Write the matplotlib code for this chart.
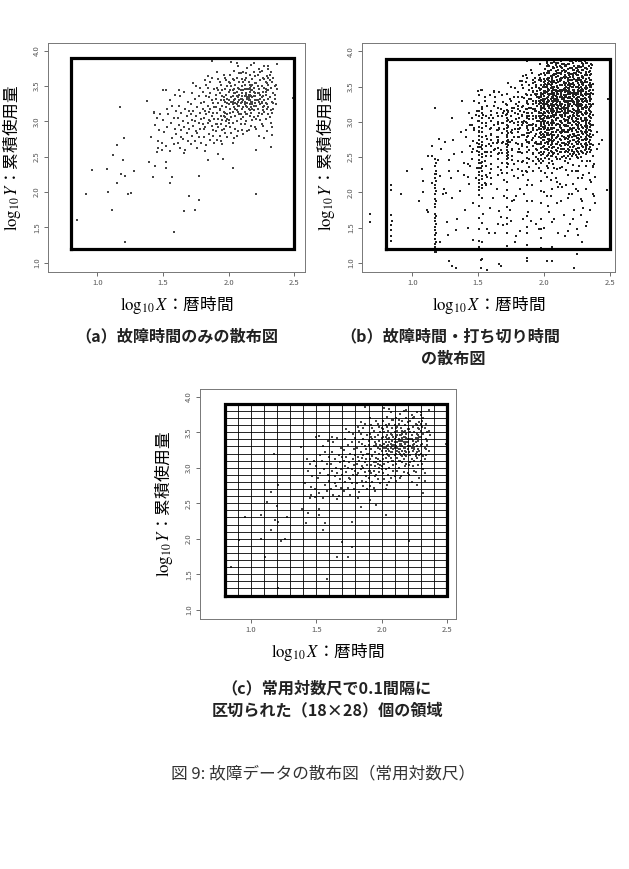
#!/usr/bin/env python3

import matplotlib
matplotlib.use("Agg")
import matplotlib.pyplot as plt
import numpy as np

plt.rcParams['font.family'] = ['Noto Sans CJK JP', 'DejaVu Sans']
plt.rcParams['mathtext.fontset'] = 'stix'

# failure data (log10 calendar time, log10 cumulative usage)
fail_x = [
    0.845, 0.91, 0.957, 1.076, 1.08, 1.11, 1.12, 1.15, 1.15, 1.175,
    1.18, 1.196, 1.206, 1.21, 1.21, 1.23, 1.257, 1.277, 1.38, 1.39,
    1.42, 1.43, 1.44, 1.45, 1.46, 1.50, 1.52, 1.49, 1.52, 1.52,
    1.55, 1.57, 1.58, 1.66, 1.70, 1.745, 1.77, 1.77, 1.84, 1.87,
    1.915, 1.955, 2.03, 2.21, 2.21, 2.49, 2.32, 2.33, 2.06, 2.19,
    2.30, 2.365,
    1.41, 1.43, 1.44, 1.45, 1.46, 1.47, 1.48, 1.49,
    1.50, 1.51, 1.52, 1.53, 1.53, 1.54, 1.55, 1.55, 1.56, 1.57, 1.57, 1.58, 1.58, 1.59, 1.59, 1.60,
    1.60, 1.61, 1.61, 1.62, 1.62, 1.63, 1.63, 1.64, 1.64, 1.65, 1.65, 1.66, 1.66, 1.67, 1.67, 1.68,
    1.68, 1.69, 1.69, 1.69, 1.70, 1.62, 1.66, 1.64,
    1.70, 1.71, 1.71, 1.72, 1.72, 1.72, 1.73, 1.73, 1.74, 1.74, 1.75, 1.75, 1.75, 1.76, 1.76, 1.77,
    1.77, 1.77, 1.78, 1.78, 1.78, 1.79, 1.79, 1.79, 1.80, 1.80, 1.73, 1.76, 1.74, 1.71,
    1.80, 1.81, 1.81, 1.81, 1.82, 1.82, 1.82, 1.83, 1.83, 1.83, 1.84, 1.84, 1.84, 1.85, 1.85, 1.85,
    1.86, 1.86, 1.86, 1.87, 1.87, 1.87, 1.88, 1.88, 1.88, 1.89, 1.89, 1.89, 1.90, 1.90, 1.82, 1.84,
    1.86, 1.88, 1.83, 1.85, 1.87, 1.89, 1.81, 1.86,
    1.90, 1.90, 1.91, 1.91, 1.91, 1.92, 1.92, 1.92, 1.92, 1.93, 1.93, 1.93, 1.94, 1.94, 1.94, 1.94,
    1.95, 1.95, 1.95, 1.95, 1.96, 1.96, 1.96, 1.96, 1.97, 1.97, 1.97, 1.97, 1.98, 1.98, 1.98, 1.98,
    1.99, 1.99, 1.99, 1.99, 2.00, 2.00, 2.00, 1.91, 1.93, 1.95, 1.97, 1.99, 1.92, 1.94, 1.96, 1.98,
    1.90, 1.93, 1.95, 1.97, 1.99, 1.91, 1.96,
    2.00, 2.00, 2.01, 2.01, 2.01, 2.01, 2.02, 2.02, 2.02, 2.02, 2.03, 2.03, 2.03, 2.03, 2.03, 2.04,
    2.04, 2.04, 2.04, 2.05, 2.05, 2.05, 2.05, 2.05, 2.06, 2.06, 2.06, 2.06, 2.07, 2.07, 2.07, 2.07,
    2.07, 2.08, 2.08, 2.08, 2.08, 2.09, 2.09, 2.09, 2.09, 2.09, 2.10, 2.10, 2.10, 2.10, 2.01, 2.02,
    2.03, 2.04, 2.05, 2.06, 2.07, 2.08, 2.09, 2.01, 2.03, 2.05, 2.07, 2.09, 2.02, 2.04, 2.06, 2.08,
    2.10, 2.00, 2.04, 2.06, 2.08, 2.03,
    2.10, 2.10, 2.11, 2.11, 2.11, 2.11, 2.12, 2.12, 2.12, 2.12, 2.12, 2.13, 2.13, 2.13, 2.13, 2.14,
    2.14, 2.14, 2.14, 2.14, 2.15, 2.15, 2.15, 2.15, 2.16, 2.16, 2.16, 2.16, 2.16, 2.17, 2.17, 2.17,
    2.17, 2.18, 2.18, 2.18, 2.18, 2.18, 2.19, 2.19, 2.19, 2.19, 2.20, 2.20, 2.20, 2.20, 2.11, 2.12,
    2.13, 2.14, 2.15, 2.16, 2.17, 2.18, 2.19, 2.11, 2.13, 2.15, 2.17, 2.19, 2.12, 2.14, 2.16, 2.18,
    2.20, 2.10, 2.13, 2.15, 2.17, 2.19, 2.11, 2.14, 2.16, 2.18, 2.12, 2.15, 2.17, 2.20, 2.13, 2.16,
    2.20, 2.21, 2.21, 2.21, 2.22, 2.22, 2.22, 2.22, 2.23, 2.23, 2.23, 2.23, 2.24, 2.24, 2.24, 2.24,
    2.25, 2.25, 2.25, 2.25, 2.26, 2.26, 2.26, 2.26, 2.27, 2.27, 2.27, 2.27, 2.28, 2.28, 2.28, 2.28,
    2.29, 2.29, 2.29, 2.29, 2.30, 2.30, 2.30, 2.21, 2.22, 2.23, 2.24, 2.25, 2.26, 2.27, 2.28, 2.29,
    2.21, 2.23, 2.25, 2.27, 2.29, 2.22, 2.24, 2.26, 2.28, 2.30, 2.25, 2.27,
    2.30, 2.30, 2.31, 2.31, 2.31, 2.32, 2.32, 2.32, 2.33, 2.33, 2.33, 2.34, 2.34, 2.34, 2.35, 2.35,
    2.36, 2.36, 2.37, 2.31, 2.32, 2.33, 2.34, 2.35, 2.30,
]
fail_y = [
    1.60, 1.98, 2.31, 2.33, 2.00, 1.75, 2.52, 2.66, 2.13, 3.20,
    2.26, 2.46, 2.76, 2.23, 1.30, 1.97, 1.99, 2.30, 3.29, 2.42,
    2.22, 3.13, 2.37, 2.57, 2.73, 3.44, 3.45, 2.59, 2.42, 2.34,
    2.13, 2.22, 1.43, 1.74, 1.95, 1.75, 1.89, 2.23, 2.45, 3.86,
    2.54, 2.47, 2.34, 1.97, 2.59, 3.33, 2.64, 2.81, 3.83, 3.82,
    3.79, 3.81,
    2.78, 3.12, 2.95, 3.05, 2.62, 2.88, 3.10, 2.70,
    3.02, 2.85, 2.65, 3.18, 2.92, 3.10, 2.58, 3.30, 2.98, 2.76, 3.22, 3.05, 2.68, 2.90, 3.38, 3.15,
    2.82, 3.05, 2.70, 3.22, 2.95, 2.62, 3.36, 2.88, 3.12, 3.00, 2.75, 3.42, 2.92, 3.18, 2.60, 3.08,
    2.84, 3.28, 2.98, 2.72, 3.15, 3.44, 2.56, 2.78,
    2.90, 3.25, 2.68, 3.02, 3.40, 2.80, 3.15, 2.94, 3.32, 2.72, 3.08, 2.86, 3.50, 3.20, 2.62, 2.98,
    3.36, 2.78, 3.12, 2.90, 3.48, 3.04, 2.70, 3.26, 2.96, 3.18, 3.55, 2.84, 3.00, 3.10,
    3.42, 3.05, 2.78, 3.28, 3.15, 2.92, 3.58, 3.36, 2.66, 3.10, 3.22, 2.98, 3.48, 3.02, 2.82, 3.34,
    3.18, 2.74, 3.40, 3.08, 2.94, 3.62, 3.26, 2.88, 3.12, 3.46, 2.70, 3.20, 3.32, 2.96, 2.58, 3.65,
    3.00, 2.80, 3.52, 3.14, 3.30, 3.04, 2.90, 3.56,
    3.38, 2.86, 3.12, 3.48, 2.74, 3.26, 3.04, 3.60, 2.92, 3.18, 3.40, 2.80, 3.30, 3.08, 2.96, 3.52,
    3.22, 3.44, 2.68, 3.02, 3.34, 3.14, 2.90, 3.66, 3.28, 3.06, 3.46, 2.84, 3.20, 3.38, 3.00, 3.58,
    3.32, 3.10, 2.78, 3.50, 3.24, 3.42, 2.98, 3.70, 3.16, 3.36, 3.12, 3.26, 3.44, 2.72, 3.08, 2.94,
    3.20, 3.56, 2.88, 3.62, 3.04, 2.96, 3.30,
    3.30, 3.56, 3.18, 3.44, 2.92, 3.66, 3.28, 3.06, 3.50, 2.84, 3.36, 3.14, 3.60, 2.98, 3.24, 3.40,
    3.20, 2.76, 3.72, 3.32, 3.08, 3.52, 2.90, 3.26, 3.42, 3.16, 3.62, 3.00, 3.34, 3.22, 3.48, 2.86,
    3.78, 3.30, 3.10, 3.56, 3.38, 3.26, 3.44, 3.04, 3.68, 2.96, 3.36, 3.18, 3.50, 3.28, 3.12, 3.34,
    2.70, 3.46, 3.40, 2.80, 3.14, 3.22, 3.32, 3.54, 3.44, 3.18, 3.28, 3.10, 3.84, 3.30, 3.24, 3.46,
    2.88, 3.02, 3.58, 3.36, 3.68, 3.28,
    3.32, 3.60, 3.20, 3.44, 3.06, 3.70, 3.36, 3.14, 3.52, 2.96, 3.28, 3.40, 3.22, 3.62, 3.00, 3.34,
    3.46, 3.10, 3.76, 3.26, 3.38, 3.18, 3.56, 2.88, 3.30, 3.42, 3.08, 3.66, 3.24, 3.36, 3.50, 3.12,
    3.80, 3.28, 3.44, 3.02, 3.60, 3.34, 3.22, 3.48, 3.16, 3.70, 3.40, 3.26, 3.54, 2.92, 3.30, 3.24,
    3.38, 3.20, 3.46, 3.16, 3.28, 3.52, 3.36, 2.82, 3.10, 3.30, 2.94, 3.42, 3.58, 3.32, 3.48, 3.18,
    3.64, 3.40, 3.26, 3.34, 3.44, 3.06, 3.56, 2.86, 3.38, 3.24, 3.46, 3.32, 3.20, 3.30, 3.68, 3.52,
    3.36, 3.22, 3.54, 3.04, 3.40, 3.18, 3.66, 3.30, 3.46, 3.12, 3.74, 3.28, 3.38, 3.02, 3.58, 3.24,
    3.34, 3.50, 3.10, 3.72, 3.42, 3.20, 3.62, 2.94, 3.30, 3.48, 3.14, 3.78, 3.38, 3.56, 3.04, 3.26,
    3.44, 3.18, 3.64, 2.86, 3.32, 3.52, 3.10, 2.90, 3.50, 2.80, 3.70, 3.28, 3.36, 3.60, 3.46, 3.24,
    3.30, 3.40, 2.96, 3.22, 3.54, 3.08, 3.32, 3.16, 3.42, 3.62, 3.26, 2.76,
    3.44, 3.20, 3.58, 3.06, 3.34, 3.48, 3.16, 3.70, 3.28, 3.56, 2.92, 3.40, 3.62, 3.18, 3.50, 3.32,
    3.52, 3.24, 3.46, 3.66, 2.98, 3.12, 3.26, 3.38, 3.74,
]

# censored data: vertical streaks (same calendar time, many usage values)
streak_x = [0.84, 1.17, 1.18, 1.51, 1.53, 1.60, 1.65, 1.72, 1.73, 1.80,
            1.87, 1.92, 1.98, 1.99, 2.02, 2.06, 2.07, 2.10, 2.14, 2.18,
            2.19, 2.22, 2.26, 2.29, 2.31, 2.32, 2.34, 2.35, 2.37,
            2.00, 2.01, 2.03, 2.04, 2.05, 2.08, 2.09, 2.11, 2.12, 2.13,
            2.15, 2.16, 2.17, 2.20, 2.21, 2.23, 2.24, 2.25, 2.27, 2.28,
            2.30, 2.33, 2.36, 1.94, 1.96, 1.89, 1.83, 1.76, 1.68, 1.56]
streak_y = [
    [1.31, 1.38, 1.47, 1.54, 1.68, 2.04, 2.10],
    [1.16, 1.23, 1.27, 1.34, 1.39, 1.46, 1.51, 1.59, 1.64, 1.70, 1.79, 1.83, 1.91, 1.98, 2.06,
     2.11, 2.21, 2.26, 2.37, 2.47],
    [1.19, 1.30, 1.43, 1.55, 1.67, 1.88, 2.02, 2.16, 2.31, 2.42],
    [1.22, 1.31, 1.48, 1.63, 1.81, 1.96, 2.03, 2.08, 2.13, 2.17, 2.24, 2.29, 2.35, 2.41, 2.46,
     2.53, 2.57, 2.64, 2.69, 2.75, 2.80, 2.87, 2.93, 3.01, 3.09, 3.16, 3.27, 3.38],
    [1.05, 1.30, 1.57, 1.92, 2.06, 2.11, 2.19, 2.23, 2.31, 2.38, 2.43, 2.50, 2.55, 2.61, 2.67,
     2.72, 2.78, 2.85, 2.91, 2.98, 3.05, 3.13, 3.21, 3.45],
    [2.12, 2.21, 2.33, 2.40, 2.52, 2.58, 2.66, 2.74, 2.83, 2.91, 3.02, 3.10],
    [1.55, 2.25, 2.36, 2.47, 2.55, 2.63, 2.71, 2.79, 2.88, 2.97, 3.08, 3.20],
    [1.24, 1.42, 1.55, 1.63, 1.79, 1.92, 2.03, 2.15, 2.27, 2.36, 2.42, 2.47, 2.51, 2.56, 2.60,
     2.65, 2.69, 2.73, 2.78, 2.82, 2.87, 2.91, 2.96, 3.01, 3.06, 3.11, 3.17, 3.24],
    [2.40, 2.49, 2.58, 2.67, 2.75, 2.84, 2.93, 3.03, 3.14, 2.53, 2.71],
    [2.20, 2.33, 2.45, 2.57, 2.68, 2.79, 2.90, 3.00, 3.11, 3.22, 3.35],
    [1.26, 1.42, 1.51, 1.66, 1.88, 2.11, 2.29, 2.41, 2.49, 2.57, 2.64, 2.71, 2.78, 2.84, 2.91,
     2.98, 3.05, 3.12, 3.19, 3.27, 3.38],
    [2.31, 2.44, 2.56, 2.66, 2.77, 2.88, 2.97, 3.08, 3.18, 3.30, 3.42, 3.55],
    [1.21, 1.35, 1.48, 1.62, 1.85, 2.02, 2.16, 2.30, 2.41, 2.47, 2.53, 2.58, 2.63, 2.68, 2.72,
     2.77, 2.81, 2.86, 2.90, 2.95, 2.99, 3.04, 3.08, 3.13, 3.17, 3.22, 3.27, 3.31, 3.36, 3.41,
     3.47, 3.53, 3.60, 3.68],
    [2.45, 2.55, 2.65, 2.74, 2.83, 2.93, 3.02, 3.11, 3.20, 3.29, 3.39, 3.50],
    [1.95, 2.22, 2.38, 2.51, 2.62, 2.71, 2.81, 2.89, 2.99, 3.07, 3.16, 3.25, 3.34, 3.43, 3.52,
     3.61, 3.70, 3.79],
    [1.22, 1.58, 2.05, 2.28, 2.44, 2.52, 2.58, 2.63, 2.68, 2.72, 2.77, 2.81, 2.86, 2.90, 2.95,
     2.99, 3.03, 3.08, 3.12, 3.17, 3.21, 3.26, 3.30, 3.35, 3.39, 3.44, 3.49, 3.54, 3.59, 3.65],
    [2.55, 2.64, 2.73, 2.82, 2.92, 3.01, 3.10, 3.19, 3.28, 3.37, 3.46, 3.56, 3.66, 3.76],
    [1.85, 2.15, 2.33, 2.47, 2.59, 2.69, 2.78, 2.88, 2.97, 3.06, 3.15, 3.24, 3.33, 3.42, 3.51,
     3.60, 3.69, 3.78],
    [2.08, 2.36, 2.50, 2.61, 2.70, 2.80, 2.89, 2.98, 3.07, 3.16, 3.25, 3.35, 3.44, 3.53, 3.62,
     3.72, 3.82],
    [1.45, 1.92, 2.24, 2.42, 2.52, 2.57, 2.62, 2.67, 2.71, 2.76, 2.80, 2.85, 2.89, 2.94, 2.98,
     3.03, 3.07, 3.12, 3.16, 3.21, 3.25, 3.30, 3.34, 3.39, 3.43, 3.48, 3.53, 3.58, 3.63, 3.69,
     3.75, 3.82],
    [2.60, 2.70, 2.79, 2.88, 2.98, 3.07, 3.16, 3.26, 3.35, 3.45, 3.55, 3.66],
    [1.62, 2.12, 2.39, 2.55, 2.65, 2.74, 2.83, 2.92, 3.01, 3.10, 3.19, 3.28, 3.37, 3.46, 3.55,
     3.64, 3.74, 3.84],
    [1.40, 2.02, 2.30, 2.49, 2.58, 2.63, 2.68, 2.73, 2.77, 2.82, 2.86, 2.91, 2.95, 3.00, 3.04,
     3.09, 3.13, 3.18, 3.22, 3.27, 3.31, 3.36, 3.40, 3.45, 3.50, 3.55, 3.61, 3.67, 3.73, 3.80],
    [1.30, 1.88, 2.21, 2.45, 2.57, 2.66, 2.75, 2.84, 2.93, 3.02, 3.11, 3.20, 3.29, 3.38, 3.47,
     3.56, 3.65, 3.74, 3.83],
    [2.60, 2.68, 2.76, 2.85, 2.94, 3.03, 3.12, 3.21, 3.30, 3.39, 3.48, 3.57, 3.66, 3.76, 3.86],
    [1.52, 2.05, 2.38, 2.55, 2.61, 2.66, 2.70, 2.75, 2.79, 2.84, 2.88, 2.93, 2.97, 3.02, 3.06,
     3.11, 3.15, 3.20, 3.24, 3.29, 3.33, 3.38, 3.42, 3.47, 3.51, 3.56, 3.61, 3.66, 3.71, 3.77,
     3.83],
    [2.62, 2.71, 2.80, 2.89, 2.99, 3.08, 3.17, 3.26, 3.35, 3.44, 3.53, 3.62, 3.71, 3.80],
    [1.75, 2.18, 2.44, 2.58, 2.64, 2.69, 2.74, 2.79, 2.83, 2.88, 2.93, 2.97, 3.02, 3.07, 3.11,
     3.16, 3.21, 3.26, 3.30, 3.35, 3.40, 3.45, 3.50, 3.55, 3.60, 3.66, 3.72],
    [1.98, 2.36, 2.52, 2.67, 2.81, 2.96, 3.10, 3.25, 3.39, 3.54],
    [2.58, 2.66, 2.75, 2.81, 2.90, 2.97, 3.05, 3.14, 3.21, 3.28, 3.37, 3.44, 3.52, 3.61, 3.70],
    [2.49, 2.61, 2.70, 2.78, 2.86, 2.94, 3.01, 3.09, 3.18, 3.26, 3.33, 3.41, 3.49, 3.58, 3.66, 3.75],
    [2.53, 2.60, 2.68, 2.76, 2.84, 2.92, 3.00, 3.08, 3.15, 3.23, 3.31, 3.39, 3.47, 3.55, 3.63, 3.72,
     3.81],
    [2.47, 2.56, 2.64, 2.73, 2.81, 2.89, 2.96, 3.05, 3.13, 3.22, 3.30, 3.38, 3.46, 3.54, 3.62, 3.70,
     3.79],
    [2.51, 2.59, 2.67, 2.75, 2.83, 2.91, 2.99, 3.07, 3.15, 3.24, 3.32, 3.40, 3.48, 3.57, 3.65, 3.74,
     3.83],
    [2.56, 2.65, 2.74, 2.82, 2.91, 2.99, 3.07, 3.16, 3.24, 3.32, 3.41, 3.49, 3.58, 3.67, 3.76, 3.85],
    [2.50, 2.60, 2.69, 2.77, 2.86, 2.95, 3.03, 3.12, 3.20, 3.29, 3.37, 3.46, 3.55, 3.64, 3.72, 3.81],
    [2.54, 2.63, 2.72, 2.80, 2.89, 2.97, 3.06, 3.14, 3.23, 3.31, 3.40, 3.48, 3.57, 3.65, 3.74, 3.83],
    [2.48, 2.58, 2.67, 2.76, 2.85, 2.93, 3.02, 3.10, 3.19, 3.27, 3.36, 3.44, 3.53, 3.61, 3.70, 3.79],
    [2.57, 2.66, 2.75, 2.84, 2.92, 3.01, 3.09, 3.18, 3.26, 3.35, 3.43, 3.52, 3.60, 3.69, 3.78, 3.86],
    [2.52, 2.61, 2.70, 2.79, 2.87, 2.96, 3.04, 3.13, 3.21, 3.30, 3.38, 3.47, 3.55, 3.64, 3.73, 3.82],
    [2.58, 2.67, 2.76, 2.85, 2.94, 3.02, 3.11, 3.19, 3.28, 3.36, 3.45, 3.54, 3.62, 3.71, 3.80],
    [2.49, 2.59, 2.68, 2.77, 2.86, 2.95, 3.03, 3.12, 3.20, 3.29, 3.38, 3.46, 3.55, 3.64, 3.72, 3.81],
    [2.55, 2.64, 2.73, 2.82, 2.90, 2.99, 3.08, 3.16, 3.25, 3.34, 3.42, 3.51, 3.60, 3.68, 3.77, 3.86],
    [2.51, 2.60, 2.69, 2.78, 2.87, 2.96, 3.05, 3.14, 3.23, 3.32, 3.41, 3.50, 3.59, 3.68, 3.77],
    [2.57, 2.66, 2.74, 2.83, 2.91, 3.00, 3.09, 3.17, 3.26, 3.35, 3.43, 3.52, 3.61, 3.70, 3.79],
    [2.53, 2.62, 2.71, 2.80, 2.88, 2.97, 3.06, 3.15, 3.24, 3.33, 3.41, 3.50, 3.59, 3.68, 3.77, 3.86],
    [2.59, 2.68, 2.77, 2.86, 2.95, 3.04, 3.13, 3.22, 3.31, 3.40, 3.49, 3.58, 3.67, 3.76],
    [2.54, 2.63, 2.72, 2.81, 2.90, 2.99, 3.08, 3.17, 3.26, 3.35, 3.44, 3.53, 3.62, 3.71, 3.80],
    [2.50, 2.59, 2.68, 2.78, 2.87, 2.96, 3.05, 3.14, 3.23, 3.32, 3.41, 3.50, 3.60, 3.69, 3.78, 3.87],
    [2.56, 2.65, 2.74, 2.83, 2.92, 3.01, 3.10, 3.19, 3.28, 3.37, 3.46, 3.55, 3.64, 3.73, 3.82],
    [2.58, 2.67, 2.76, 2.85, 2.94, 3.03, 3.12, 3.21, 3.30, 3.39, 3.48, 3.57, 3.66, 3.75, 3.84],
    [2.60, 2.69, 2.78, 2.87, 2.96, 3.05, 3.14, 3.23, 3.32, 3.41, 3.50, 3.59, 3.68, 3.77],
    [2.40, 2.50, 2.61, 2.72, 2.83, 2.94, 3.05, 3.16, 3.27, 3.38, 3.49],
    [2.44, 2.56, 2.68, 2.79, 2.91, 3.02, 3.13, 3.25, 3.36, 3.48, 3.60],
    [2.36, 2.48, 2.60, 2.72, 2.84, 2.96, 3.08, 3.20, 3.32],
    [2.30, 2.43, 2.56, 2.69, 2.82, 2.95, 3.08, 3.21],
    [2.32, 2.46, 2.60, 2.74, 2.88, 3.02, 3.16],
    [2.28, 2.42, 2.56, 2.70, 2.84, 2.98],
    [2.10, 2.24, 2.38, 2.52, 2.66, 2.80, 2.94, 3.08],
]

# censored data: scattered points
cens_x = [
    0.68, 0.68, 1.28, 1.30, 1.33, 1.52, 1.52, 1.57, 1.66, 1.67, 1.87, 1.87, 2.02, 2.06, 2.23,
    2.25, 1.18, 2.48, 2.49, 2.44, 2.42,
    0.96, 1.05, 1.08, 1.12, 1.15, 1.22, 1.24, 1.26, 1.28, 1.30, 1.31, 1.33, 1.35, 1.36, 1.38,
    1.40, 1.41, 1.42, 1.43, 1.44, 1.27, 1.29, 1.32, 1.34, 1.37, 1.39, 1.42, 1.45, 1.25, 1.30,
    1.45, 1.46, 1.47, 1.48, 1.49, 1.50, 1.54, 1.55, 1.56, 1.57, 1.58, 1.59, 1.61, 1.62, 1.63,
    1.64, 1.66, 1.67, 1.68, 1.69, 1.70, 1.74, 1.75, 1.76, 1.47, 1.49, 1.55, 1.57, 1.59, 1.62,
    1.64, 1.67, 1.69, 1.74, 1.76, 1.46, 1.56, 1.63, 1.68, 1.75,
    1.77, 1.78, 1.79, 1.81, 1.82, 1.83, 1.84, 1.85, 1.86, 1.88, 1.89, 1.90, 1.91, 1.93, 1.94,
    1.95, 1.96, 1.97, 1.78, 1.80, 1.82, 1.84, 1.86, 1.89, 1.91, 1.94, 1.96, 1.77, 1.83, 1.85,
    1.90, 1.95, 1.79, 1.88, 1.93,
    2.00, 2.01, 2.03, 2.04, 2.05, 2.08, 2.09, 2.11, 2.12, 2.13, 2.15, 2.16, 2.17, 2.20, 2.21,
    2.23, 2.24, 2.25, 2.27, 2.28, 2.30, 2.33, 2.36, 2.38, 2.39, 2.40, 2.00, 2.04, 2.08, 2.12,
    2.16, 2.20, 2.24, 2.28, 2.33, 2.38, 2.02, 2.09, 2.15, 2.21, 2.27, 2.36, 2.40, 2.05, 2.13,
    2.23, 2.30, 2.39, 2.11, 2.19, 2.26, 2.34, 2.07, 2.17, 2.25, 2.37,
]
cens_y = [
    1.70, 1.58, 1.03, 0.95, 0.92, 1.04, 0.92, 0.90, 0.99, 0.96, 1.07, 1.03, 1.03, 1.03, 0.92,
    1.12, 1.15, 2.03, 3.33, 2.74, 2.68,
    2.30, 1.88, 2.16, 1.72, 2.52, 2.62, 2.05, 1.58, 2.46, 1.92, 2.75, 1.46, 2.30, 2.02, 2.58,
    1.75, 2.88, 2.40, 2.12, 2.66, 1.40, 2.20, 2.55, 1.62, 2.85, 2.25, 1.50, 2.95, 2.72, 3.05,
    2.48, 1.85, 2.92, 2.20, 3.15, 2.65, 1.70, 2.45, 2.80, 1.48, 3.05, 2.28, 1.92, 2.60, 3.28,
    2.05, 2.90, 1.65, 2.42, 3.12, 2.18, 2.72, 3.30, 1.88, 3.30, 2.35, 3.36, 2.58, 1.78, 3.42,
    2.70, 2.32, 1.54, 3.00, 2.52, 1.32, 2.12, 1.42, 3.38, 1.60,
    2.40, 3.48, 1.95, 2.62, 1.45, 3.58, 2.25, 2.82, 3.66, 1.72, 2.48, 3.74, 2.10, 2.70, 1.55,
    3.40, 2.35, 3.82, 1.30, 2.85, 2.05, 1.62, 2.30, 3.52, 1.88, 2.95, 1.48, 3.20, 3.00, 1.98,
    1.60, 2.60, 1.38, 2.18, 3.62,
    1.50, 2.28, 1.80, 2.42, 1.95, 1.62, 2.20, 1.42, 2.35, 1.88, 1.68, 2.45, 2.10, 1.55, 2.30,
    1.75, 2.05, 1.48, 2.38, 1.90, 2.25, 1.58, 2.15, 2.40, 1.85, 2.62, 2.00, 1.72, 2.35, 2.12,
    1.38, 2.48, 2.30, 1.68, 2.45, 1.95, 3.86, 3.84, 3.88, 3.86, 3.87, 3.82, 2.85, 2.18, 2.62,
    2.56, 1.78, 2.22, 2.08, 1.98, 2.20, 2.28, 2.40, 2.32, 2.50, 2.38,
]

# region split into 0.1 cells
region_x = (0.8, 2.5)
region_y = (1.2, 3.9)
cell = 0.1

xticks = [1.0, 1.5, 2.0, 2.5]
yticks = [1.0, 1.5, 2.0, 2.5, 3.0, 3.5, 4.0]

W, H = 629, 869


def panel(fig, px, xlim, ylim):
    left, top, right, bottom = px
    ax = fig.add_axes([left / W, 1 - bottom / H, (right - left) / W, (bottom - top) / H])
    ax.set_xlim(*xlim)
    ax.set_ylim(*ylim)
    ax.set_xticks(xticks)
    ax.set_xticklabels([f"{t:.1f}" for t in xticks])
    ax.set_yticks(yticks)
    ax.set_yticklabels([f"{t:.1f}" for t in yticks], rotation=90, va='center')
    ax.tick_params(labelsize=5.5, colors='#555555', length=3, width=0.6, pad=2)
    for s in ax.spines.values():
        s.set_color('#777777')
        s.set_linewidth(0.7)
    ax.set_xlabel(r'$\log_{10}X$：暦時間', fontsize=12, labelpad=5)
    ax.set_ylabel(r'$\log_{10}Y$：累積使用量', fontsize=12, labelpad=7)
    return ax


def draw_region(ax, grid=False):
    if grid:
        for gx in np.arange(region_x[0], region_x[1] + 1e-9, cell):
            ax.plot([gx, gx], region_y, color='black', lw=0.6, zorder=3)
        for gy in np.arange(region_y[0], region_y[1] + 1e-9, cell):
            ax.plot(region_x, [gy, gy], color='black', lw=0.6, zorder=3)
    ax.plot([region_x[0], region_x[1], region_x[1], region_x[0], region_x[0]],
            [region_y[0], region_y[0], region_y[1], region_y[1], region_y[0]],
            color='black', lw=2.3, zorder=4, solid_joinstyle='miter')


def dots(ax, x, y, s=0.9, c='#444444'):
    ax.scatter(x, y, s=s, marker='s', c=c, linewidths=0, zorder=2)


if __name__ == "__main__":
    fig = plt.figure(figsize=(W / 100, H / 100), dpi=100)

    sx = np.concatenate([np.full(len(ys), x) for x, ys in zip(streak_x, streak_y)])
    sy = np.concatenate([np.array(ys) for ys in streak_y])

    ax_a = panel(fig, (48, 43, 305, 272), (0.624, 2.58), (0.87, 4.11))
    dots(ax_a, fail_x, fail_y)
    draw_region(ax_a)

    ax_b = panel(fig, (362, 43, 615, 272), (0.617, 2.54), (0.87, 4.12))
    dots(ax_b, fail_x, fail_y, s=1.2, c='#222222')
    dots(ax_b, sx, sy, s=1.2, c='#222222')
    dots(ax_b, cens_x, cens_y, s=1.2, c='#222222')
    draw_region(ax_b)

    ax_c = panel(fig, (200, 389, 456, 619), (0.609, 2.57), (0.87, 4.11))
    dots(ax_c, fail_x, fail_y)
    draw_region(ax_c, grid=True)

    cap = dict(fontsize=11.6, fontweight='bold', ha='center', va='center', color='#222222')
    fig.text(177 / W, 1 - 336 / H, '（a）故障時間のみの散布図', **cap)
    fig.text(450 / W, 1 - 336 / H, '（b）故障時間・打ち切り時間', **cap)
    fig.text(453 / W, 1 - 359 / H, 'の散布図', **cap)
    fig.text(326 / W, 1 - 688 / H, '（c）常用対数尺で0.1間隔に', **cap)
    fig.text(327 / W, 1 - 710 / H, '区切られた（18×28）個の領域', **cap)
    fig.text(323 / W, 1 - 774 / H, '図 9: 故障データの散布図（常用対数尺）',
             fontsize=12, ha='center', va='center', color='#333333')

    fig.savefig('out.png', dpi=100)
